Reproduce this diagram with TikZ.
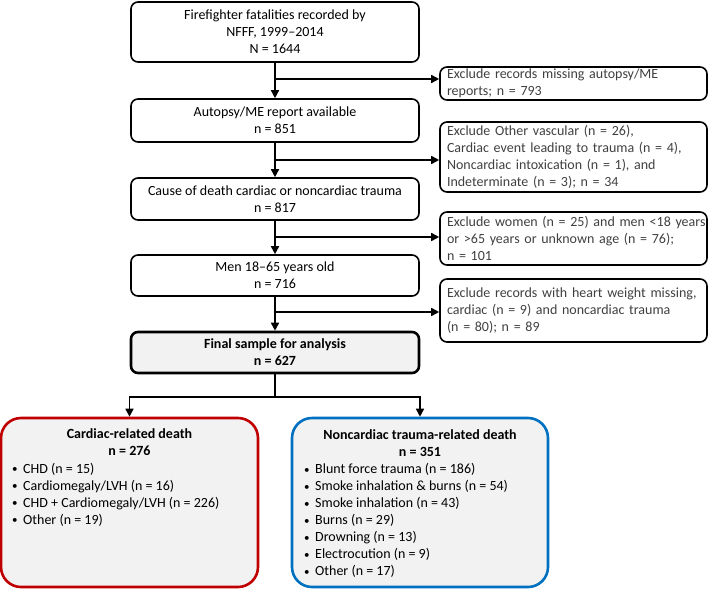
\documentclass[tikz,border=0pt]{standalone}
\usepackage{fontspec}
\setmainfont{Carlito}
\usetikzlibrary{arrows.meta}
\definecolor{redc}{HTML}{C00000}
\definecolor{bluec}{HTML}{0070C0}
\definecolor{boxfill}{HTML}{F2F2F2}
\definecolor{exgray}{HTML}{404040}
\newcommand{\bul}{\makebox[11pt][l]{\raisebox{0.5pt}{\fontsize{11}{11}\selectfont\textbullet}}}
\begin{document}
\begin{tikzpicture}[x=1pt,y=-1pt,
  txt/.style={font=\fontsize{14}{17}\selectfont},
  mainbox/.style={txt, draw=black, line width=1.6pt, rounded corners=7pt, minimum width=288pt, align=center, inner sep=0pt, fill=white},
  finalbox/.style={mainbox, fill=boxfill, line width=2.6pt, font=\fontsize{14}{17}\selectfont\bfseries},
  exbox/.style={txt, draw=black, line width=1.6pt, rounded corners=7pt, inner xsep=7pt, inner ysep=0pt, text width=253pt, align=left, text=exgray},
  catbox/.style={line width=2.6pt, rounded corners=20pt, fill=boxfill, minimum width=256pt, minimum height=169pt},
  arr/.style={line width=1.6pt, -{Triangle[length=8pt,width=8pt]}},
  ln/.style={line width=1.6pt},
  listtxt/.style={txt, align=left, inner sep=0pt, anchor=west},
  titletxt/.style={txt, align=center, inner sep=0pt, font=\fontsize{14}{17}\selectfont\bfseries}
]
\useasboundingbox (0,0) rectangle (709,589);

% main column
\node[mainbox, minimum height=60pt] (b1) at (275,32) {Firefighter fatalities recorded by\\NFFF, 1999–2014\\N = 1644};
\node[mainbox, minimum height=43pt] (b2) at (275,120.5) {Autopsy/ME report available\\n = 851};
\node[mainbox, minimum height=42pt] (b3) at (275,199) {Cause of death cardiac or noncardiac trauma\\n = 817};
\node[mainbox, minimum height=41pt] (b4) at (275,275.5) {Men 18–65 years old\\n = 716};
\node[finalbox, minimum height=41pt] (b5) at (275,352.5) {Final sample for analysis\\n = 627};

% exclusion boxes
\node[exbox, minimum height=33pt] (e1) at (573.5,83.5) {\mbox{Exclude records missing autopsy/ME}\\reports; n = 793};
\node[exbox, minimum height=70pt] (e2) at (573.5,157) {\mbox{Exclude Other vascular (n = 26),}\\\mbox{Cardiac event leading to trauma (n = 4),}\\\mbox{Noncardiac intoxication (n = 1), and}\\\mbox{Indeterminate (n = 3); n = 34}};
\node[exbox, minimum height=53pt] (e3) at (573.5,238.5) {\mbox{Exclude women (n = 25) and men <18 years}\\\mbox{or >65 years or unknown age (n = 76);}\\n = 101};
\node[exbox, minimum height=63pt] (e4) at (573.5,310.5) {\mbox{Exclude records with heart weight missing,}\\\mbox{cardiac (n = 9) and noncardiac trauma}\\(n = 80); n = 89};

% vertical arrows
\draw[arr] (b1.south) -- (b2.north);
\draw[arr] (b2.south) -- (b3.north);
\draw[arr] (b3.south) -- (b4.north);
\draw[arr] (b4.south) -- (b5.north);

% branches to exclusions
\coordinate (j1) at (275,79);
\coordinate (j2) at (275,160);
\coordinate (j3) at (275,237);
\coordinate (j4) at (275,312);
\draw[arr] (j1) -- (j1 -| e1.west);
\draw[arr] (j2) -- (j2 -| e2.west);
\draw[arr] (j3) -- (j3 -| e3.west);
\draw[arr] (j4) -- (j4 -| e4.west);

% category boxes
\node[catbox, draw=redc, minimum width=257pt] (red) at (129.5,502.5) {};
\node[catbox, draw=bluec] (blue) at (420,502.5) {};

\coordinate (split) at (275,397);
\draw[ln] (b5.south) -- (split);
\draw[arr] (split) -| (red.north);
\draw[arr] (split) -| (blue.north);

\node[titletxt] (redt) at (129.5,442) {Cardiac-related death\\n = 276};
\node[titletxt] (bluet) at (420,443.5) {Noncardiac trauma-related death\\n = 351};

\node[listtxt] (redl) at (12,494.5) {\bul CHD (n = 15)\\\bul Cardiomegaly/LVH (n = 16)\\\bul CHD + Cardiomegaly/LVH (n = 226)\\\bul Other (n = 19)};
\node[listtxt] (bluel) at (304,520.5) {\bul Blunt force trauma (n = 186)\\\bul Smoke inhalation \& burns (n = 54)\\\bul Smoke inhalation (n = 43)\\\bul Burns (n = 29)\\\bul Drowning (n = 13)\\\bul Electrocution (n = 9)\\\bul Other (n = 17)};
\end{tikzpicture}
\end{document}
